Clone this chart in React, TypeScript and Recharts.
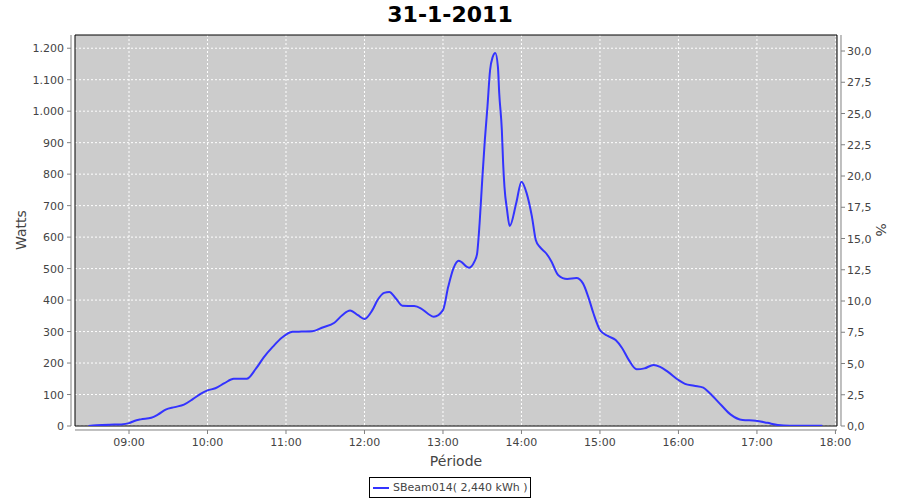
import {
  LineChart,
  Line,
  XAxis,
  YAxis,
  CartesianGrid,
  ReferenceArea,
  ReferenceLine,
} from 'recharts'

// readings of SBeam014, 31-1-2011
const times: string[] = [
  '08:29', '08:35', '08:45', '08:54', '09:00', '09:04', '09:09', '09:17', '09:22', '09:28',
  '09:35', '09:42', '09:49', '09:55', '10:00', '10:06', '10:13', '10:20', '10:30', '10:37',
  '10:43', '10:50', '10:57', '11:05', '11:12', '11:20', '11:28', '11:37', '11:43', '11:49',
  '11:55', '12:00', '12:06', '12:10', '12:15', '12:19', '12:24', '12:29', '12:38', '12:43',
  '12:49', '12:53', '13:00', '13:04', '13:08', '13:12', '13:20', '13:24', '13:26', '13:28',
  '13:30', '13:32', '13:34', '13:36', '13:38', '13:40', '13:42', '13:43', '13:45', '13:46',
  '13:47', '13:49', '13:51', '13:56', '14:00', '14:04', '14:08', '14:11', '14:14', '14:19',
  '14:23', '14:28', '14:35', '14:42', '14:47', '14:51', '14:55', '15:00', '15:06', '15:12',
  '15:17', '15:22', '15:28', '15:34', '15:41', '15:46', '15:52', '16:00', '16:05', '16:12',
  '16:19', '16:24', '16:33', '16:40', '16:49', '16:59', '17:08', '17:16', '17:25', '17:50',
]
const watts: number[] = [
  0, 2, 4, 5, 9, 16, 21, 26, 36, 52,
  60, 68, 86, 103, 113, 120, 136, 150, 150, 182,
  218, 252, 281, 299, 300, 301, 313, 328, 352, 367,
  352, 340, 368, 400, 423, 426, 405, 382, 381, 374,
  355, 347, 368, 442, 501, 525, 503, 522, 545, 644,
  781, 908, 1014, 1130, 1172, 1185, 1141, 1057, 940, 834,
  760, 686, 635, 708, 776, 739, 665, 590, 569, 548,
  522, 480, 467, 470, 453, 411, 358, 305, 286, 273,
  247, 210, 180, 183, 194, 188, 172, 146, 134, 128,
  122, 104, 65, 36, 19, 17, 10, 3, 1, 1,
]

const hourTicks = [9, 10, 11, 12, 13, 14, 15, 16, 17, 18]
const wattTicks = [0, 100, 200, 300, 400, 500, 600, 700, 800, 900, 1000, 1100, 1200]
const pctTicks = [0, 2.5, 5, 7.5, 10, 12.5, 15, 17.5, 20, 22.5, 25, 27.5, 30]

const X_DOMAIN: [number, number] = [8.312, 18.02]
const W_DOMAIN: [number, number] = [0, 1242]
const P_DOMAIN: [number, number] = [0, 31.28]

const toHours = (s: string) => {
  const [h, m] = s.split(':').map(Number)
  return h + m / 60
}

const data = times.map((t, i) => ({ t: toHours(t), w: watts[i] }))

const FONT = '"DejaVu Sans", sans-serif'
const TXT = '#444444'
const AXIS = '#808080'

const fmtWatts = (v: number) => v.toLocaleString('de-DE')
const fmtPct = (v: number) => v.toFixed(1).replace('.', ',')
const fmtHour = (v: number) => `${String(v).padStart(2, '0')}:00`

const LeftTick = ({ x, y, payload }: any) => (
  <g>
    <line x1={x - 8} x2={x - 4} y1={y} y2={y} stroke={AXIS} />
    <text x={x - 11} y={y + 4} textAnchor="end" fontSize={11} fontFamily={FONT} fill={TXT}>
      {fmtWatts(payload.value)}
    </text>
  </g>
)

const RightTick = ({ x, y, payload }: any) => (
  <g>
    <line x1={x + 4} x2={x + 8} y1={y} y2={y} stroke={AXIS} />
    <text x={x + 10} y={y + 4} textAnchor="start" fontSize={11} fontFamily={FONT} fill={TXT}>
      {fmtPct(payload.value)}
    </text>
  </g>
)

const BottomTick = ({ x, y, payload }: any) => (
  <g>
    <line x1={x} x2={x} y1={y + 4} y2={y + 8} stroke={AXIS} />
    <text x={x} y={y + 20} textAnchor="middle" fontSize={11} fontFamily={FONT} fill={TXT}>
      {fmtHour(payload.value)}
    </text>
  </g>
)

export default function App() {
  return (
    <div style={{ position: 'absolute', left: 0, top: 0, width: 900, height: 500, background: '#fff' }}>
      <div
        style={{
          position: 'absolute',
          top: 2,
          width: 900,
          textAlign: 'center',
          fontFamily: FONT,
          fontWeight: 'bold',
          fontSize: 22,
          color: '#000',
        }}
      >
        31-1-2011
      </div>
      <LineChart
        width={900}
        height={500}
        data={data}
        margin={{ top: 35, right: 13, bottom: 44, left: 15 }}
      >
        <CartesianGrid
          fill="#CCCCCC"
          fillOpacity={1}
          stroke="#FFFFFF"
          strokeDasharray="2 2"
          yAxisId="w"
          horizontalValues={wattTicks}
          verticalValues={hourTicks}
        />
        <XAxis
          dataKey="t"
          type="number"
          domain={X_DOMAIN}
          ticks={hourTicks}
          allowDataOverflow
          axisLine={false}
          tickLine={false}
          tickSize={0}
          tickMargin={0}
          height={30}
          tick={<BottomTick />}
        />
        <YAxis
          yAxisId="w"
          orientation="left"
          type="number"
          domain={W_DOMAIN}
          ticks={wattTicks}
          allowDataOverflow
          axisLine={false}
          tickLine={false}
          tickSize={0}
          tickMargin={0}
          width={60}
          tick={<LeftTick />}
        />
        <YAxis
          yAxisId="p"
          orientation="right"
          type="number"
          domain={P_DOMAIN}
          ticks={pctTicks}
          allowDataOverflow
          axisLine={false}
          tickLine={false}
          tickSize={0}
          tickMargin={0}
          width={50}
          tick={<RightTick />}
        />
        <ReferenceArea
          yAxisId="w"
          x1={X_DOMAIN[0]}
          x2={X_DOMAIN[1]}
          y1={W_DOMAIN[0]}
          y2={W_DOMAIN[1]}
          fill="none"
          stroke="#000"
          strokeWidth={1}
          ifOverflow="visible"
        />
        {/* axis lines sit 4px outside the plot, JFreeChart style */}
        <ReferenceLine yAxisId="w" x={X_DOMAIN[0] - 4 / 78.5} stroke={AXIS} ifOverflow="visible" />
        <ReferenceLine yAxisId="w" x={X_DOMAIN[1] + 4 / 78.5} stroke={AXIS} ifOverflow="visible" />
        <ReferenceLine yAxisId="w" y={-4 / 0.315} stroke={AXIS} ifOverflow="visible" />
        <Line
          yAxisId="w"
          type="monotone"
          dataKey="w"
          stroke="#3333FF"
          strokeWidth={2}
          dot={false}
          activeDot={false}
          isAnimationActive={false}
        />
        <text
          x={22}
          y={230}
          transform="rotate(-90 22 230)"
          textAnchor="middle"
          dominantBaseline="middle"
          fontSize={14}
          fontFamily={FONT}
          fill={TXT}
        >
          Watts
        </text>
        <text
          x={880}
          y={230}
          transform="rotate(90 880 230)"
          textAnchor="middle"
          dominantBaseline="middle"
          fontSize={14}
          fontFamily={FONT}
          fill={TXT}
        >
          %
        </text>
        <text x={456} y={466} textAnchor="middle" fontSize={14} fontFamily={FONT} fill={TXT}>
          Période
        </text>
      </LineChart>
      <div
        style={{
          position: 'absolute',
          left: 369,
          top: 477,
          width: 162,
          height: 21,
          boxSizing: 'border-box',
          border: '1px solid #000',
          display: 'flex',
          alignItems: 'center',
          fontFamily: FONT,
          fontSize: 11,
          color: TXT,
          whiteSpace: 'nowrap',
        }}
      >
        <span style={{ display: 'inline-block', width: 16, height: 2, background: '#3333FF', margin: '0 4px 0 3px' }} />
        SBeam014( 2,440 kWh )
      </div>
    </div>
  )
}
